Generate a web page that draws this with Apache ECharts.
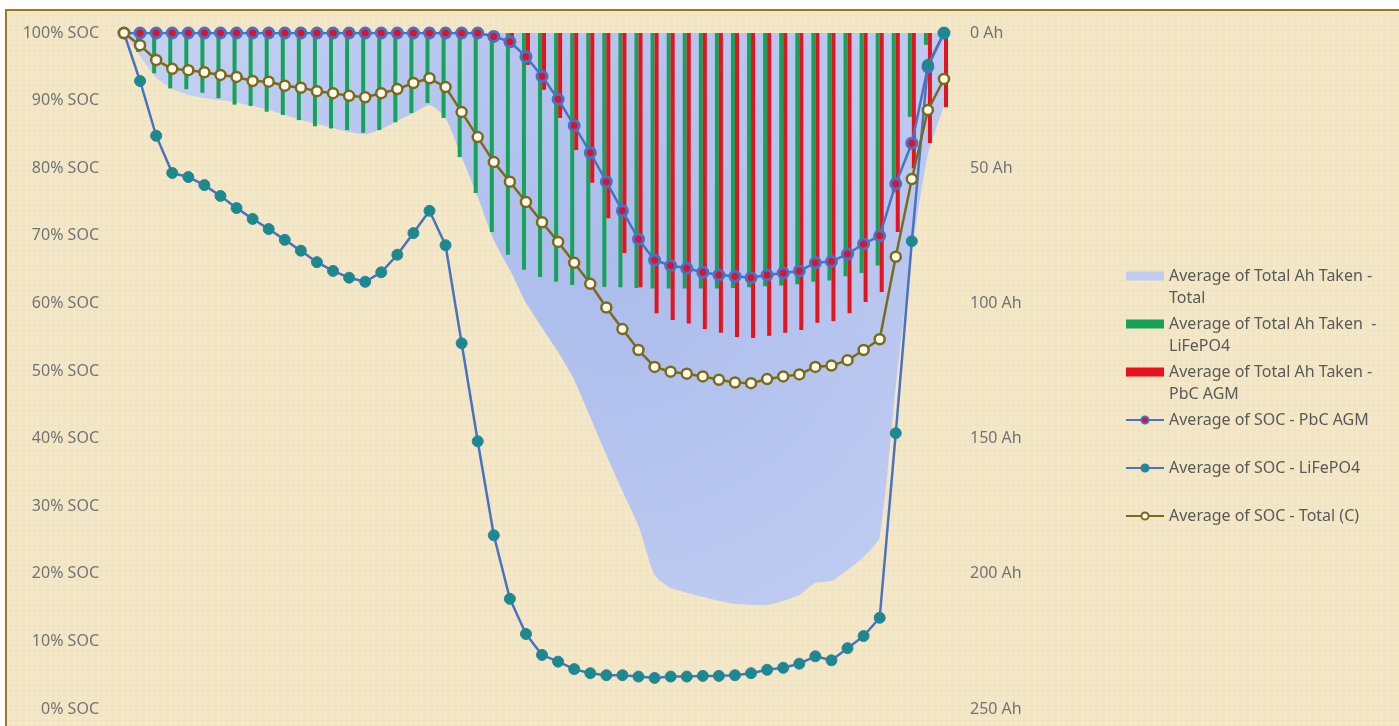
<!DOCTYPE html>
<html>
<head>
<meta charset="utf-8">
<script src="https://cdn.jsdelivr.net/npm/echarts@6/dist/echarts.min.js"></script>
<style>
  html, body { margin: 0; padding: 0; background: #ffffff; overflow: hidden; }
  #frame {
    position: absolute; left: 5px; top: 9px; width: 1400px; height: 725px;
    border-top: 2px solid #9a7b25; border-left: 2px solid #9a7b25;
    background-color: #f3e6c5;
    background-image:
      repeating-linear-gradient(90deg, rgba(255,255,255,0.10) 0 2px, rgba(0,0,0,0) 2px 6px),
      repeating-linear-gradient(0deg, rgba(190,160,100,0.06) 0 1px, rgba(0,0,0,0) 1px 5px);
  }
  #chart { position: absolute; left: 0; top: 0; width: 1400px; height: 725px; }
</style>
</head>
<body>
<div id="frame"><div id="chart"></div></div>
<script>
// x categories (sample index, no labels shown on the chart)
var categories = ['1','2','3','4','5','6','7','8','9','10','11','12','13','14','15','16','17','18','19','20',
  '21','22','23','24','25','26','27','28','29','30','31','32','33','34','35','36','37','38','39','40',
  '41','42','43','44','45','46','47','48','49','50','51','52'];

// Ah taken (right axis, 0 at top)
var ahTotal = [0, 8.5, 16.5, 20.7, 22.9, 24, 24.8, 25.7, 27, 28.5, 30.3, 32.2, 33.7, 35.1, 36.6, 37.4, 35.5, 32.5, 29.6, 26.6,
  31.4, 45.9, 60.6, 76.6, 87.6, 99.8, 109, 118, 128.3, 142, 156, 169.4, 182.3, 200.4, 205.2, 207, 208.6, 210, 211.2, 211.5,
  211.5, 210, 207.8, 203.4, 202.7, 198.6, 193.8, 186.4, 131, 81, 45, 27];
var ahLiFePO4 = [0, 7, 14.9, 20.5, 20.8, 22.1, 24.1, 26.5, 27, 29.1, 30.3, 32.2, 34.5, 35.3, 35.9, 36.9, 35.9, 33, 29.6, 25.9,
  31.4, 45.9, 59.2, 73.6, 82, 87.6, 90.2, 92, 93.2, 93.9, 93.9, 94, 94.3, 94.5, 94.5, 94.5, 94.5, 94.5, 94.3, 94,
  93.7, 93.4, 92.9, 92, 91.5, 90, 88.8, 86, 59, 31, 4.4, 0];
var ahPbC = [0, 0, 0, 0, 0, 0, 0, 0, 0, 0, 0, 0, 0, 0, 0, 0, 0, 0, 0, 0,
  0, 0, 0, 0, 3, 11.8, 21, 31.4, 43.3, 55.4, 68.5, 81.4, 94, 103.6, 106.1, 107.4, 109.5, 110.9, 112.4, 112.8,
  112, 110.9, 109.8, 107.2, 106.5, 103.6, 99.5, 95.8, 73.6, 50, 40.7, 27.4];

// SOC % (left axis)
var socPbC = [100, 100, 100, 100, 100, 100, 100, 100, 100, 100, 100, 100, 100, 100, 100, 100, 100, 100, 100, 100,
  100, 100, 100, 99.5, 98.7, 96.5, 93.6, 90.2, 86.3, 82.3, 78.0, 73.7, 69.5, 66.4, 65.6, 65.2, 64.6, 64.2, 64.0, 63.8,
  64.2, 64.5, 64.8, 66.0, 66.2, 67.3, 68.8, 70.0, 77.7, 83.7, 95, 100];
var socLiFePO4 = [100, 92.9, 84.8, 79.3, 78.7, 77.5, 75.9, 74.1, 72.5, 71.0, 69.4, 67.8, 66.1, 64.8, 63.8, 63.2, 64.6, 67.2, 70.4, 73.7,
  68.6, 54.1, 39.6, 25.7, 16.3, 11.1, 8.0, 7.0, 5.9, 5.3, 5.0, 5.0, 4.8, 4.6, 4.8, 4.8, 4.9, 4.9, 5.0, 5.3,
  5.8, 6.1, 6.7, 7.8, 7.2, 9.0, 10.8, 13.5, 40.8, 69.2, 95.3, 100];
var socTotal = [100, 98.2, 96.0, 94.7, 94.5, 94.2, 93.8, 93.5, 92.9, 92.8, 92.2, 91.9, 91.4, 91.1, 90.7, 90.5, 91.1, 91.7, 92.6, 93.3,
  92.0, 88.3, 84.6, 80.9, 78.0, 75.0, 72.0, 69.1, 66.0, 62.9, 59.4, 56.2, 53.1, 50.6, 49.9, 49.6, 49.2, 48.7, 48.3, 48.2,
  48.8, 49.2, 49.5, 50.6, 50.8, 51.6, 53.1, 54.7, 66.9, 78.4, 88.6, 93.2];

var socTicks = [0, 10, 20, 30, 40, 50, 60, 70, 80, 90, 100];
var ahTicks = [0, 50, 100, 150, 200, 250];

var seriesNames = [
  'Average of Total Ah Taken - Total',
  'Average of Total Ah Taken  - LiFePO4',
  'Average of Total Ah Taken - PbC AGM',
  'Average of SOC - PbC AGM',
  'Average of SOC - LiFePO4',
  'Average of SOC - Total (C)'
];
// how the legend breaks each name over two lines
var legendLines = {};
legendLines[seriesNames[0]] = ['Average of Total Ah Taken -', 'Total'];
legendLines[seriesNames[1]] = ['Average of Total Ah Taken  -', 'LiFePO4'];
legendLines[seriesNames[2]] = ['Average of Total Ah Taken -', 'PbC AGM'];
legendLines[seriesNames[3]] = ['Average of SOC - PbC AGM', ' '];
legendLines[seriesNames[4]] = ['Average of SOC - LiFePO4', ' '];
legendLines[seriesNames[5]] = ['Average of SOC - Total (C)', ' '];

var blueLine = '#4a72c2';
var oliveLine = '#7b6a1e';
var labelFont = 'Noto Sans';

var option = {
  animation: false,
  backgroundColor: 'transparent',
  grid: { left: 117, top: 22, width: 820, height: 676, containLabel: false },
  legend: {
    orient: 'vertical',
    left: 1118,
    top: 232,
    padding: 0,
    itemGap: -18,
    itemWidth: 38,
    itemHeight: 9,
    data: [
      { name: seriesNames[0], icon: 'rect' },
      { name: seriesNames[1], icon: 'rect' },
      { name: seriesNames[2], icon: 'rect' },
      { name: seriesNames[3] },
      { name: seriesNames[4] },
      { name: seriesNames[5] }
    ],
    formatter: function (name) {
      var l = legendLines[name];
      return ' \n' + l[0] + '\n' + l[1];
    },
    textStyle: { color: '#595959', fontSize: 16, fontFamily: labelFont, lineHeight: 22 }
  },
  xAxis: {
    type: 'category',
    data: categories,
    boundaryGap: false,
    axisLine: { show: false },
    axisTick: { show: false },
    axisLabel: { show: false },
    splitLine: { show: false }
  },
  yAxis: [
    {
      type: 'value',
      min: socTicks[0],
      max: socTicks[socTicks.length - 1],
      interval: 10,
      axisLine: { show: false },
      axisTick: { show: false },
      splitLine: { show: false },
      axisLabel: { formatter: '{value}% SOC', color: '#737373', fontSize: 16, fontFamily: labelFont, margin: 25 }
    },
    {
      type: 'value',
      position: 'right',
      inverse: true,
      min: ahTicks[0],
      max: ahTicks[ahTicks.length - 1],
      interval: 50,
      axisLine: { show: false },
      axisTick: { show: false },
      splitLine: { show: false },
      axisLabel: { formatter: '{value} Ah', color: '#737373', fontSize: 16, fontFamily: labelFont, margin: 26 }
    }
  ],
  series: [
    {
      name: seriesNames[0],
      type: 'line',
      yAxisIndex: 1,
      data: ahTotal,
      smooth: 0.2,
      showSymbol: false,
      symbol: 'none',
      lineStyle: { width: 0, color: '#bcc9f0' },
      itemStyle: { color: '#bfcbf1' },
      areaStyle: {
        opacity: 1,
        color: {
          type: 'radial', x: 0.6, y: 0.4, r: 0.8,
          colorStops: [
            { offset: 0, color: '#abbcec' },
            { offset: 1, color: '#c2cef2' }
          ]
        }
      },
      z: 1
    },
    {
      name: seriesNames[1],
      type: 'bar',
      yAxisIndex: 1,
      data: ahLiFePO4,
      barWidth: 4,
      barGap: '0%',
      itemStyle: { color: '#17a25a' },
      z: 2
    },
    {
      name: seriesNames[2],
      type: 'bar',
      yAxisIndex: 1,
      data: ahPbC,
      barWidth: 4,
      barGap: '0%',
      itemStyle: { color: '#e8121c' },
      z: 2
    },
    {
      name: seriesNames[3],
      type: 'line',
      yAxisIndex: 0,
      data: socPbC,
      symbol: 'circle',
      symbolSize: 10,
      showAllSymbol: true,
      lineStyle: { color: blueLine, width: 2.5 },
      itemStyle: { color: '#d9142c', borderColor: blueLine, borderWidth: 3 },
      z: 3
    },
    {
      name: seriesNames[4],
      type: 'line',
      yAxisIndex: 0,
      data: socLiFePO4,
      symbol: 'circle',
      symbolSize: 11,
      showAllSymbol: true,
      lineStyle: { color: blueLine, width: 2.5 },
      itemStyle: { color: '#1b8a8a', borderColor: '#2f7fa6', borderWidth: 1 },
      z: 4
    },
    {
      name: seriesNames[5],
      type: 'line',
      yAxisIndex: 0,
      data: socTotal,
      symbol: 'circle',
      symbolSize: 10,
      showAllSymbol: true,
      lineStyle: { color: oliveLine, width: 2.5 },
      itemStyle: { color: '#fffbe8', borderColor: oliveLine, borderWidth: 2.5 },
      z: 5
    }
  ]
};

var myChart = echarts.init(document.getElementById('chart'));
myChart.setOption(option);
window.addEventListener('resize', function () {
  myChart.resize();
});
</script>
</body>
</html>
